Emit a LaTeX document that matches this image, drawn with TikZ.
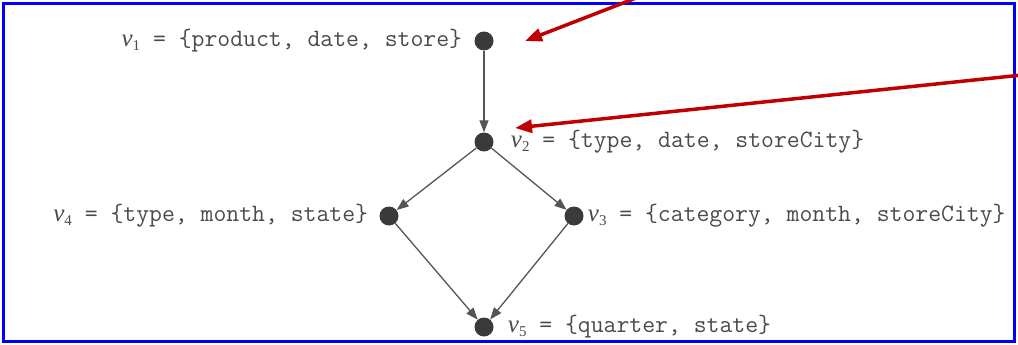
\documentclass[tikz,border=0pt]{standalone}
\usepackage{fontspec}
\setmainfont{Liberation Serif}
\usetikzlibrary{arrows.meta,positioning}
\definecolor{dotgray}{HTML}{3A3A3A}
\definecolor{txtgray}{HTML}{4A4A4A}
\definecolor{linegray}{HTML}{555555}
\definecolor{arrred}{HTML}{C00000}
\newcommand\myv[1]{{\rmfamily\itshape v}\raisebox{-4pt}{\rmfamily\fontsize{15}{17}\selectfont #1}}
\begin{document}
\begin{tikzpicture}[x=1pt,y=-1pt,
  dot/.style={circle,fill=dotgray,inner sep=0pt,minimum size=19pt},
  lbl/.style={inner sep=0pt,text=txtgray,font=\fontsize{25}{27}\selectfont\ttfamily},
  edgearrow/.style={draw=linegray,line width=1.3pt,-{Triangle[length=12pt,width=9pt]}},
  redarrow/.style={draw=arrred,line width=3.5pt,-{Triangle[length=17pt,width=13pt]}}]
\useasboundingbox (0,0) rectangle (1018,345);
\draw[blue,line width=3pt] (3.5,4) rectangle (1014.5,341.5);
\node[dot] (v1) at (484,41) {};
\node[dot] (v2) at (484,142) {};
\node[dot] (v4) at (389,216) {};
\node[dot] (v3) at (574,216) {};
\node[dot] (v5) at (484,327) {};
\node[lbl,left=12pt of v1] (l1) {\myv{1} = \{product, date, store\}};
\node[lbl,right=17pt of v2] (l2) {\myv{2} = \{type, date, storeCity\}};
\node[lbl,left=11pt of v4] (l4) {\myv{4} = \{type, month, state\}};
\node[lbl,right=4pt of v3] (l3) {\myv{3} = \{category, month, storeCity\}};
\node[lbl,right=14pt of v5] (l5) {\myv{5} = \{quarter, state\}};
\draw[edgearrow] (v1) -- (v2);
\draw[edgearrow] (v2) -- (v4);
\draw[edgearrow] (v2) -- (v3);
\draw[edgearrow] (v4) -- (v5);
\draw[edgearrow] (v3) -- (v5);
\coordinate (r1s) at (636,-2);
\coordinate (r1e) at (525,41);
\coordinate (r2s) at (1022,75);
\coordinate (r2e) at (515,128);
\draw[redarrow] (r1s) -- (r1e);
\draw[redarrow] (r2s) -- (r2e);
\end{tikzpicture}
\end{document}
